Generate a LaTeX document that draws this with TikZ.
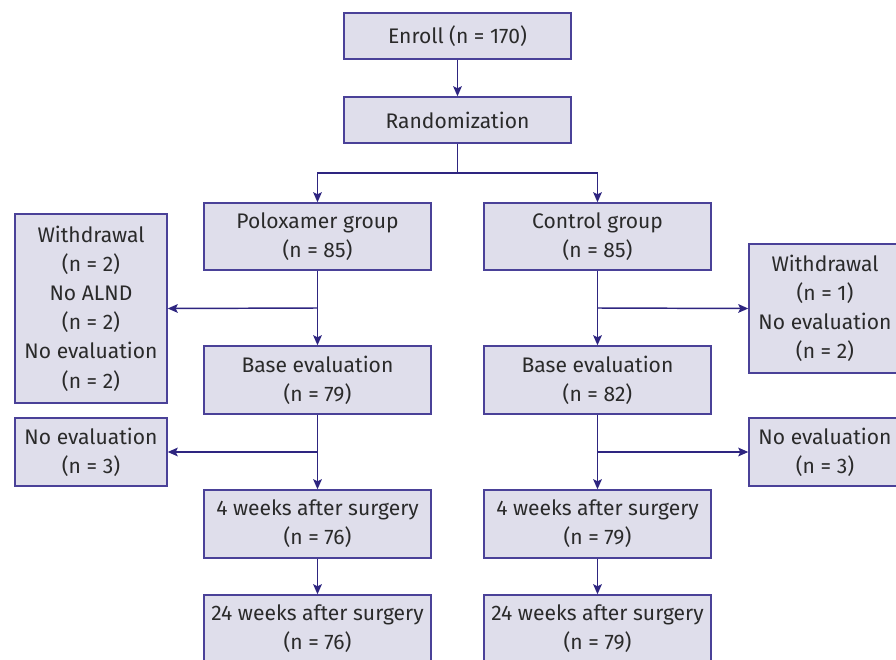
\documentclass[tikz,border=0pt]{standalone}
\usepackage{fontspec}
\setmainfont{Fira Sans}
\usetikzlibrary{arrows.meta}
\definecolor{boxfill}{HTML}{DFDEEB}
\definecolor{boxdraw}{HTML}{4A4198}
\definecolor{linecol}{HTML}{2E2580}
\definecolor{txtcol}{HTML}{2A2A2A}
\begin{document}
\begin{tikzpicture}[x=0.75pt,y=-0.75pt,
  flowbox/.style={draw=boxdraw,fill=boxfill,line width=1.1pt,rectangle,align=center,
    text=txtcol,inner sep=0pt,
    font=\fontsize{15.8pt}{21.9pt}\selectfont},
  mainbox/.style={flowbox,minimum width=227*0.75pt},
  sidebox/.style={flowbox,minimum width=152*0.75pt},
  conn/.style={draw=linecol,line width=1.1pt},
  arr/.style={conn,-{Stealth[length=7.5pt,width=6.5pt,inset=1.5pt]}}]
\clip (0,0) rectangle (896,660);
\fill[white] (0,0) rectangle (896,660);

\node[mainbox,minimum height=46*0.75pt] (enroll) at (457.5,36) {Enroll (n = 170)};
\node[mainbox,minimum height=46*0.75pt] (rand) at (457.5,120) {Randomization};

\node[mainbox,minimum height=67*0.75pt] (polox) at (317.5,236.5) {Poloxamer group\\(n = 85)};
\node[mainbox,minimum height=67*0.75pt] (ctrl) at (597.5,236.5) {Control group\\(n = 85)};

\node[mainbox,minimum height=68*0.75pt] (base1) at (317.5,380) {Base evaluation\\(n = 79)};
\node[mainbox,minimum height=68*0.75pt] (base2) at (597.5,380) {Base evaluation\\(n = 82)};

\node[mainbox,minimum height=68*0.75pt] (wkfa) at (317.5,524) {4 weeks after surgery\\(n = 76)};
\node[mainbox,minimum height=68*0.75pt] (wkfb) at (597.5,524) {4 weeks after surgery\\(n = 79)};

\node[mainbox,minimum height=68*0.75pt] (wkta) at (317.5,629) {24 weeks after surgery\\(n = 76)};
\node[mainbox,minimum height=68*0.75pt] (wktb) at (597.5,629) {24 weeks after surgery\\(n = 79)};

\node[sidebox,minimum height=189*0.75pt] (wda) at (91,308.5) {Withdrawal\\(n = 2)\\No ALND\\(n = 2)\\No evaluation\\(n = 2)};
\node[sidebox,minimum height=129*0.75pt] (wdb) at (825,308.5) {Withdrawal\\(n = 1)\\No evaluation\\(n = 2)};

\node[sidebox,minimum height=68*0.75pt] (nea) at (91,452) {No evaluation\\(n = 3)};
\node[sidebox,minimum height=68*0.75pt] (neb) at (825,452) {No evaluation\\(n = 3)};

\coordinate (split) at (457.5,173);
\coordinate (ba) at (317.5,308);
\coordinate (bb) at (597.5,308);
\coordinate (ca) at (317.5,452);
\coordinate (cb) at (597.5,452);

\draw[arr] (enroll) -- (rand);
\draw[conn] (rand.south) -- (split);
\draw[arr] (split) -| (polox.north);
\draw[arr] (split) -| (ctrl.north);

\draw[arr] (polox) -- (base1);
\draw[arr] (ba) -- (wda.east);
\draw[arr] (ctrl) -- (base2);
\draw[arr] (bb) -- (wdb.west);

\draw[arr] (base1) -- (wkfa);
\draw[arr] (ca) -- (nea.east);
\draw[arr] (base2) -- (wkfb);
\draw[arr] (cb) -- (neb.west);

\draw[arr] (wkfa) -- (wkta);
\draw[arr] (wkfb) -- (wktb);
\end{tikzpicture}
\end{document}
